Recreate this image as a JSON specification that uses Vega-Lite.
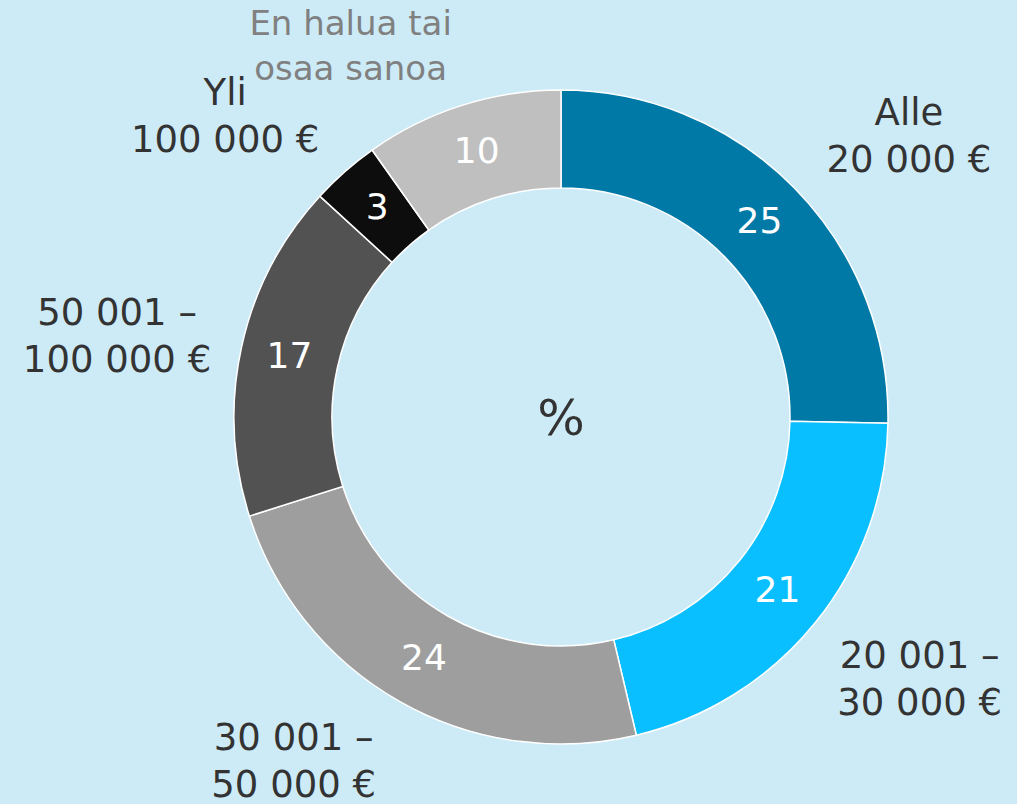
{
  "$schema": "https://vega.github.io/schema/vega-lite/v6.json",
  "autosize": "none",
  "width": 912,
  "height": 778,
  "padding": {"left": 105, "top": 28, "right": 0, "bottom": 0},
  "background": "#cdebf7",
  "config": {"view": {"stroke": null}, "text": {"font": "DejaVu Sans"}},
  "datasets": {
    "income": [
      {"i": 1, "label": "Alle\n20 000 €", "value": 25.3},
      {"i": 2, "label": "20 001 –\n30 000 €", "value": 21.0},
      {"i": 3, "label": "30 001 –\n50 000 €", "value": 23.8},
      {"i": 4, "label": "50 001 –\n100 000 €", "value": 16.7},
      {"i": 5, "label": "Yli\n100 000 €", "value": 3.4},
      {"i": 6, "label": "En halua tai\nosaa sanoa", "value": 9.8}
    ],
    "center": [{"t": "%"}]
  },
  "data": {"name": "income"},
  "encoding": {
    "theta": {"field": "value", "type": "quantitative", "stack": true},
    "order": {"field": "i", "type": "quantitative"}
  },
  "layer": [
    {
      "mark": {"type": "arc", "innerRadius": 229, "outerRadius": 327, "stroke": "#ffffff", "strokeWidth": 1.5},
      "encoding": {
        "color": {
          "field": "i", "type": "nominal", "legend": null,
          "scale": {"domain": [1, 2, 3, 4, 5, 6], "range": ["#0079a7", "#0abfff", "#9e9e9e", "#525252", "#0d0d0d", "#bfbfbf"]}
        }
      }
    },
    {
      "mark": {"type": "text", "radius": 278, "fontSize": 36, "fill": "#ffffff", "align": "center", "baseline": "middle"},
      "encoding": {"text": {"field": "value", "type": "quantitative", "format": ".0f"}}
    },
    {
      "mark": {"type": "text", "radius": 446, "thetaOffset": 0.1, "dy": -23.5, "fontSize": 37, "fill": "#333333", "align": "center", "baseline": "middle", "lineBreak": "\n", "lineHeight": 47},
      "encoding": {"text": {"condition": {"test": "datum.i === 1", "field": "label"}, "value": ""}}
    },
    {
      "mark": {"type": "text", "radius": 445, "thetaOffset": -0.045, "dy": -23.5, "fontSize": 37, "fill": "#333333", "align": "center", "baseline": "middle", "lineBreak": "\n", "lineHeight": 47},
      "encoding": {"text": {"condition": {"test": "datum.i === 2", "field": "label"}, "value": ""}}
    },
    {
      "mark": {"type": "text", "radius": 437, "thetaOffset": 0.143, "dy": -23.5, "fontSize": 37, "fill": "#333333", "align": "center", "baseline": "middle", "lineBreak": "\n", "lineHeight": 47},
      "encoding": {"text": {"condition": {"test": "datum.i === 3", "field": "label"}, "value": ""}}
    },
    {
      "mark": {"type": "text", "radius": 451, "thetaOffset": -0.04, "dy": -23.5, "fontSize": 37, "fill": "#333333", "align": "center", "baseline": "middle", "lineBreak": "\n", "lineHeight": 47},
      "encoding": {"text": {"condition": {"test": "datum.i === 4", "field": "label"}, "value": ""}}
    },
    {
      "mark": {"type": "text", "radius": 450, "thetaOffset": -0.12, "dy": -23.5, "fontSize": 37, "fill": "#333333", "align": "center", "baseline": "middle", "lineBreak": "\n", "lineHeight": 47},
      "encoding": {"text": {"condition": {"test": "datum.i === 5", "field": "label"}, "value": ""}}
    },
    {
      "mark": {"type": "text", "radius": 425, "thetaOffset": -0.21, "dy": -23, "fontSize": 34, "fill": "#808080", "align": "center", "baseline": "middle", "lineBreak": "\n", "lineHeight": 45},
      "encoding": {"text": {"condition": {"test": "datum.i === 6", "field": "label"}, "value": ""}}
    },
    {
      "data": {"name": "center"},
      "mark": {"type": "text", "fontSize": 50, "fill": "#333333", "align": "center", "baseline": "middle", "dy": 3},
      "encoding": {"text": {"field": "t", "type": "nominal"}, "theta": null, "order": null}
    }
  ]
}
